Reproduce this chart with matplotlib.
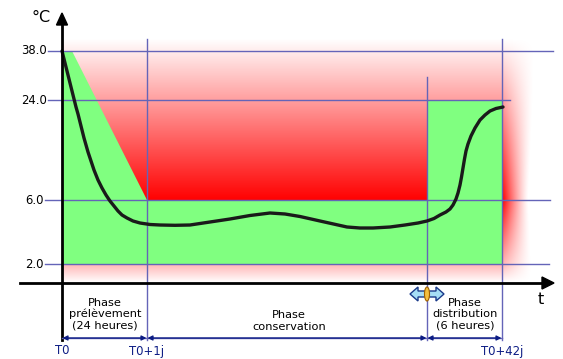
import matplotlib
matplotlib.use('Agg')
import matplotlib.pyplot as plt
import matplotlib.patches as mpatches
import numpy as np

# schema coordinates (pixels of the 563x359 drawing)
temp_labels = ['38.0', '24.0', '6.0', '2.0']
temp_pos = [51, 100, 200, 264]
grid_x0 = [48, 48, 45, 45]
grid_x1 = [553, 510, 550, 549]

time_labels = ['T0', 'T0+1j', 'T0+42j']
time_pos = [62, 147, 502]
t_switch = 427
vline_top = [39, 77, 39]
vline_x = [147, 427, 502]

# tolerance envelope (green)
env_x = [62, 72, 147, 427, 427, 502, 502, 62]
env_y = [51, 51, 200, 200, 100, 100, 264, 264]

# temperature curve
curve_x = [62, 64, 66, 68, 70, 72, 74, 76, 78, 80, 82, 84, 86, 88, 91, 94,
           98, 102, 106, 110, 114, 118, 122, 127, 133, 140,
           150, 160, 175, 190, 210, 230, 250, 270, 285, 300, 320, 347, 360,
           373, 390, 405, 418, 427, 434,
           440, 446, 450, 453, 456, 458, 460, 461.5, 463, 464.5, 466, 468,
           471, 475, 480, 485, 490, 496, 503]
curve_y = [51, 59, 67, 75, 83, 91, 99, 107, 114, 122, 130, 138, 145, 152, 161,
           170, 180, 188, 195, 201, 206, 211, 215, 218, 221, 223,
           224.5, 225, 225.3, 225, 222, 219, 215.5, 213, 214, 216.5, 221, 227,
           228, 228, 227, 225, 223, 221, 218.5,
           215, 212, 209, 205, 199, 193, 185, 177, 168, 159, 151, 144,
           136, 128, 120, 115, 111, 108.5, 107]

phase_text = ['Phase\nprélèvement\n(24 heures)', 'Phase\nconservation',
              'Phase\ndistribution\n(6 heures)']
phase_cx = [105, 289, 465]
phase_cy = [314, 321, 314]

gridc = '#6464b8'
navy = '#0c1c84'

fig = plt.figure(figsize=(5.63, 3.59), dpi=100)
ax = fig.add_axes([0, 0, 1, 1])
ax.set_xlim(0, 563)
ax.set_ylim(359, 0)
ax.axis('off')

# red background gradient
X0, X1, Y0, Y1 = 62, 540, 38, 283
xs = np.linspace(X0, X1, 480)
ys = np.linspace(Y0, Y1, 246)
XX, YY = np.meshgrid(xs, ys)
va = np.where(YY < 200, (YY - 38) / 162.0,
              np.where(YY < 264, 1 - 0.7 * (YY - 200) / 64.0, 0.3 * (283 - YY) / 19.0))
va = np.clip(va, 0, 1)
w = 26 + 8 * np.abs(YY - 200) / 160.0
ha = np.where(XX < 503, 1.0, np.clip(1 - (XX - 503) / w, 0, 1) ** 1.3)
rgba = np.zeros(XX.shape + (4,))
rgba[..., 0] = 1.0
rgba[..., 3] = va * ha
ax.imshow(rgba, extent=(X0, X1, Y1, Y0), origin='upper', interpolation='bilinear',
          aspect='auto', zorder=1)

ax.fill(env_x, env_y, color='#80ff80', zorder=2, lw=0)

for y, a, b in zip(temp_pos, grid_x0, grid_x1):
    ax.plot([a, b], [y, y], color=gridc, lw=1, zorder=3)
for x, t in zip(vline_x, vline_top):
    ax.plot([x, x], [t, 340], color=gridc, lw=1, zorder=3)

ax.plot(curve_x, curve_y, color='#1a1a1a', lw=2.4, zorder=4,
        solid_joinstyle='round', solid_capstyle='round')

# axes
ax.plot([62, 62], [340, 24], color='black', lw=2, zorder=5)
ax.add_patch(mpatches.Polygon([[56.5, 25], [67.5, 25], [62, 13]], closed=True,
                              color='black', zorder=5))
ax.plot([20, 543], [283, 283], color='black', lw=2, zorder=5)
ax.add_patch(mpatches.Polygon([[542, 277], [542, 289], [554, 283]], closed=True,
                              color='black', zorder=5))

ax.text(41, 18, '°C', fontsize=11.5, ha='center', va='center', zorder=6)
ax.text(541, 299, 't', fontsize=11.5, ha='center', va='center', zorder=6)

for lab, y in zip(temp_labels, temp_pos):
    ax.text(34, y, lab, fontsize=8.4, ha='center', va='center', zorder=6)

for txt, cx, cy in zip(phase_text, phase_cx, phase_cy):
    ax.text(cx, cy, txt, fontsize=8.2, ha='center', va='center',
            linespacing=1.15, zorder=6)

# dimension lines
bounds = [62, 147, t_switch, 502]
for a, b in zip(bounds[:-1], bounds[1:]):
    ax.annotate('', xy=(a + 0.5, 338), xytext=(b - 0.5, 338),
                arrowprops=dict(arrowstyle='<|-|>', color=navy, lw=1,
                                mutation_scale=7, shrinkA=0, shrinkB=0),
                zorder=6)
    ax.plot([a, b], [338, 338], color=gridc, lw=1, zorder=5)

for lab, x in zip(time_labels, time_pos):
    ax.text(x, 351, lab, fontsize=8.4, ha='center', va='center', color=navy, zorder=6)

# double arrow icon at the switch point
cx, cy = t_switch, 294
arrow = [[cx - 17, cy], [cx - 9, cy - 7], [cx - 9, cy - 3], [cx + 9, cy - 3],
         [cx + 9, cy - 7], [cx + 17, cy], [cx + 9, cy + 7], [cx + 9, cy + 3],
         [cx - 9, cy + 3], [cx - 9, cy + 7]]
ax.add_patch(mpatches.Polygon(arrow, closed=True, facecolor='#a6def6',
                              edgecolor='#1a3a8a', lw=1, zorder=7))
ax.add_patch(mpatches.Ellipse((cx, cy), 5, 14, facecolor='#f4c040',
                              edgecolor='#a06000', lw=0.8, zorder=8))

plt.savefig('out.png', dpi=100)
